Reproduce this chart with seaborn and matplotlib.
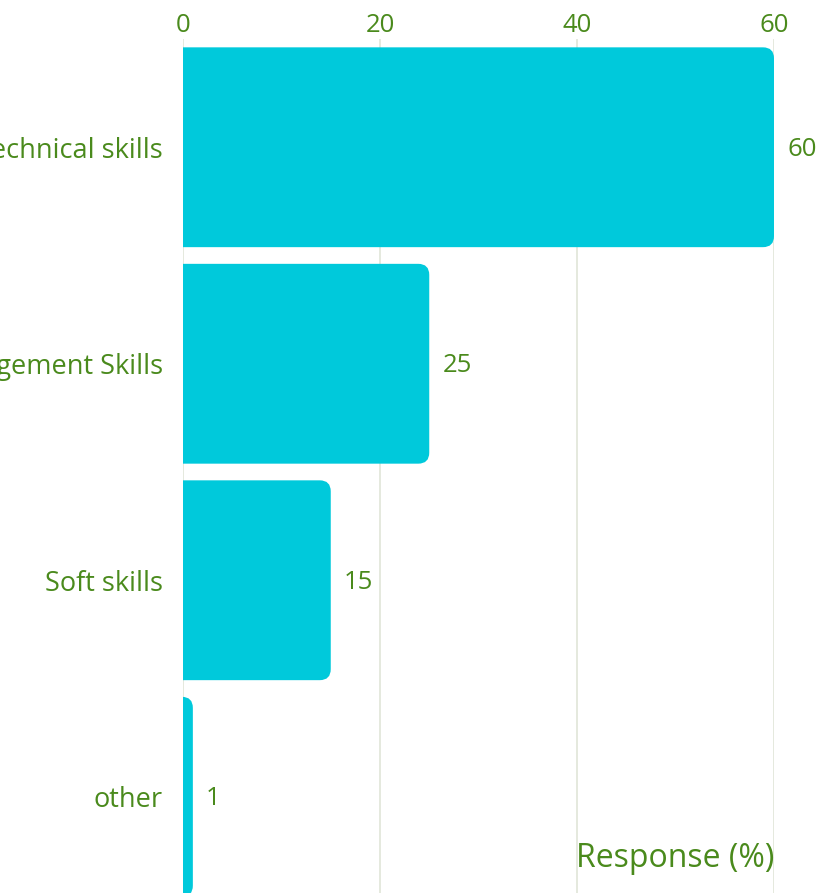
import matplotlib
matplotlib.use("Agg")
import matplotlib.pyplot as plt
import seaborn as sns
import pandas as pd
from matplotlib.patches import FancyBboxPatch

# Survey data
categories = ["Technical skills", "Management Skills", "Soft skills", "other"]
responses = [60, 25, 15, 1]
x_ticks = [0, 20, 40, 60]
x_label = "Response (%)"

BAR_COLOR = "#00c9db"
TEXT_COLOR = "#4a8a1c"
GRID_COLOR = "#e0e5d8"

sns.set_theme(style="white")
plt.rcParams["font.family"] = ["Open Sans", "DejaVu Sans"]

W, H = 819, 893
fig = plt.figure(figsize=(W / 100, H / 100), dpi=100)
# The plotting area runs past the lower edge of the canvas
ax = fig.add_axes([183 / W, (H - 905) / H, (774 - 183) / W, (905 - 39) / H])

df = pd.DataFrame({"category": categories, "response": responses})
sns.barplot(data=df, x="response", y="category", orient="h", color=BAR_COLOR,
            saturation=1, width=0.923, ax=ax)

ax.set_xlim(0, 60)
ax.set_ylim(len(categories) - 0.5, -0.5)

# Replace the plain rectangles with bars rounded on their outer end
fig.canvas.draw()
px_x = ax.bbox.width / 60.0
px_y = ax.bbox.height / len(categories)
radius_px = 11
for p in list(ax.patches):
    x0, y0, w, h = p.get_x(), p.get_y(), p.get_width(), p.get_height()
    r = radius_px / px_x
    rounded = FancyBboxPatch((x0 - r, y0), w + r, h,
                             boxstyle=f"round,pad=0,rounding_size={r}",
                             mutation_aspect=px_x / px_y,
                             facecolor=BAR_COLOR, edgecolor="none", zorder=2)
    p.remove()
    ax.add_patch(rounded)

# Value labels next to each bar
for i, v in enumerate(responses):
    ax.annotate(f"{v}", xy=(v, i), xytext=(9.5, -1.5), textcoords="offset points",
                ha="left", va="center", color=TEXT_COLOR, fontsize=18.5,
                annotation_clip=False)

ax.xaxis.tick_top()
ax.set_xticks(x_ticks)
ax.set_xticklabels([str(t) for t in x_ticks])
ax.tick_params(axis="x", length=0, pad=0.5, labelsize=18.5, labelcolor=TEXT_COLOR)
ax.tick_params(axis="y", length=0, pad=14.5, labelsize=19.5, labelcolor=TEXT_COLOR)
ax.set_xlabel("")
ax.set_ylabel("")
ax.xaxis.grid(True, color=GRID_COLOR, linewidth=1.2)
ax.yaxis.grid(False)
ax.set_axisbelow(True)
for s in ax.spines.values():
    s.set_visible(False)

ax.text(1.0, (905 - 867) / (905 - 39), x_label, transform=ax.transAxes,
        ha="right", va="baseline", color=TEXT_COLOR, fontsize=23)

fig.savefig("out.png", dpi=100)
